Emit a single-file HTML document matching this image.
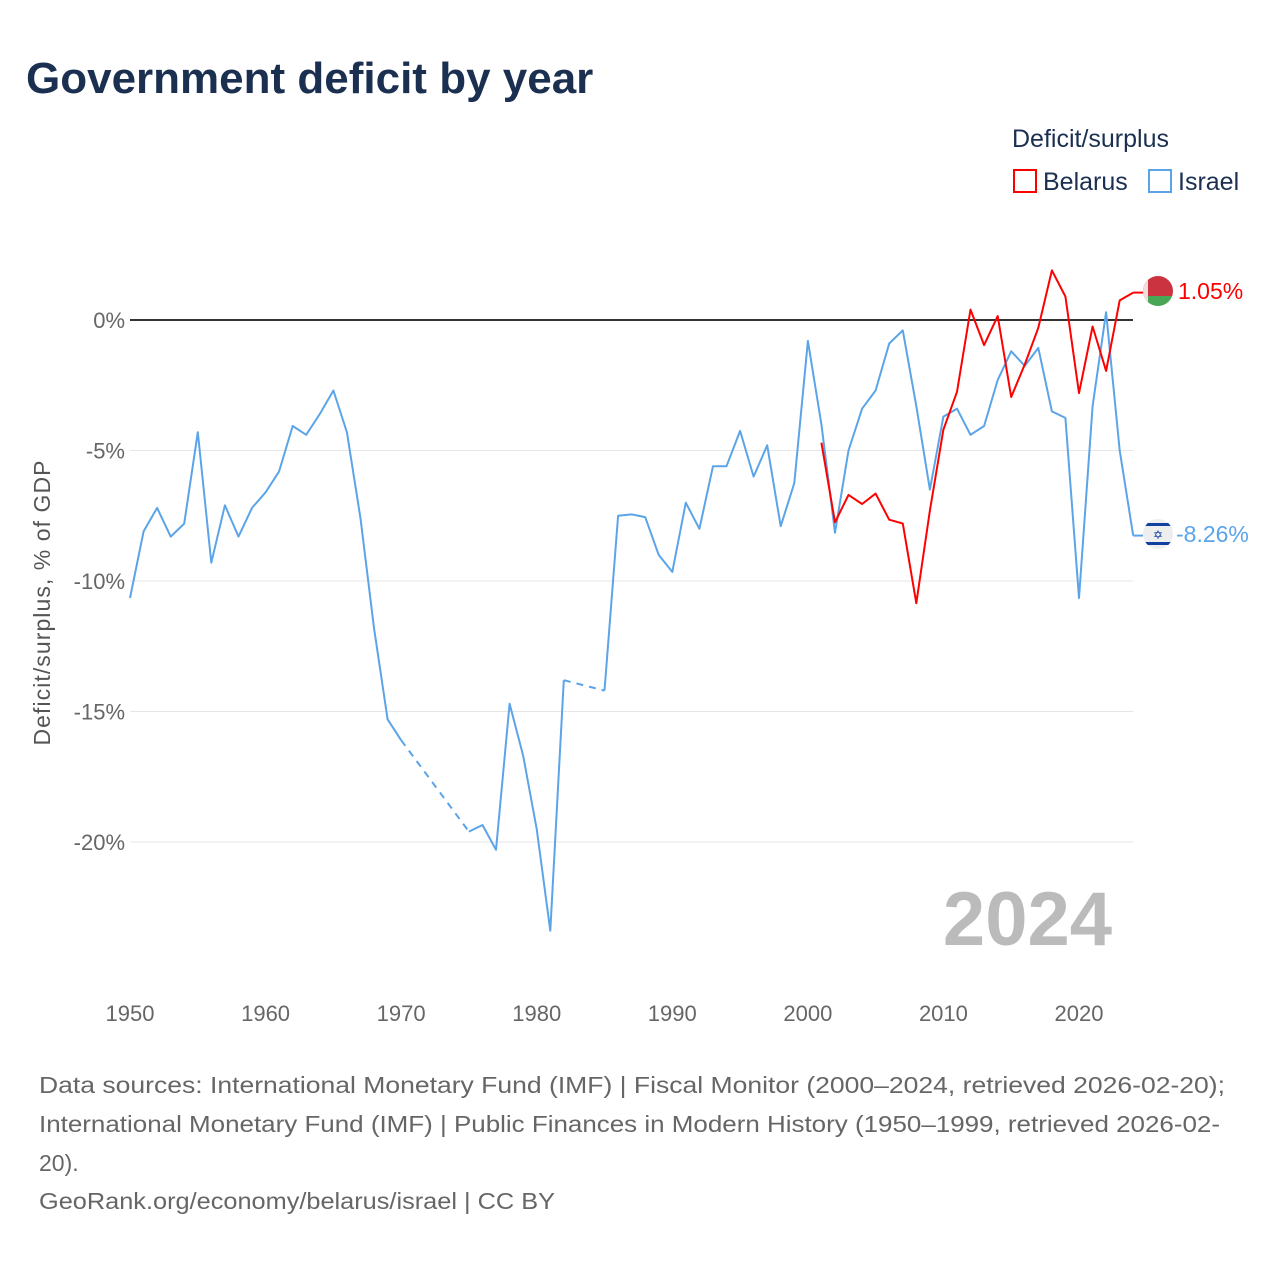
<!DOCTYPE html>
<html><head><meta charset="utf-8">
<style>
body{margin:0;background:#fff;font-family:"Liberation Sans",sans-serif;}
#wrap{position:relative;width:1280px;height:1280px;overflow:hidden;}
</style></head>
<body>
<div id="wrap">
<svg id="chart" width="1280" height="1280" font-family="Liberation Sans, sans-serif">
<text x="26" y="93" font-size="44" font-weight="bold" fill="#1b3050">Government deficit by year</text>
<text x="1012" y="147" font-size="25" fill="#1b3050">Deficit/surplus</text>
<g><rect x="1014" y="170" width="22" height="22" fill="none" stroke="#ff0000" stroke-width="2"/><text x="1043" y="190" font-size="25" fill="#1b3050">Belarus</text></g>
<g><rect x="1149" y="170" width="22" height="22" fill="none" stroke="#5ba4e8" stroke-width="2"/><text x="1178" y="190" font-size="25" fill="#1b3050">Israel</text></g>
<text transform="translate(50,603) rotate(-90)" text-anchor="middle" font-size="23" fill="#555" textLength="285">Deficit/surplus, % of GDP</text>
<g id="grid"></g><g id="yticks"></g><g id="xticks"></g><g id="series"></g>
<text x="1112" y="945" text-anchor="end" font-size="76" font-weight="bold" fill="#bbbbbb">2024</text>
<g>
<clipPath id="cb"><circle cx="1158" cy="291" r="15"/></clipPath>
<g clip-path="url(#cb)"><rect x="1143" y="276" width="30" height="20" fill="#cc3340"/><rect x="1143" y="296" width="30" height="10" fill="#4aa657"/><rect x="1143" y="276" width="5" height="30" fill="#f2dcdc"/></g></g>
<text x="1178" y="299" font-size="23" fill="#ff0000">1.05%</text>
<g>
<circle cx="1158" cy="534" r="15" fill="#eee"/>
<clipPath id="ci"><circle cx="1158" cy="534" r="15"/></clipPath>
<g clip-path="url(#ci)"><rect x="1143" y="523" width="30" height="3" fill="#1040a0"/><rect x="1143" y="542" width="30" height="3" fill="#1040a0"/></g>
<text x="1158" y="539" text-anchor="middle" font-size="12" fill="#1040a0">✡</text></g>
<text x="1176" y="542" font-size="23" fill="#5ba4e8">-8.26%</text>
<g font-size="23" fill="#666">
<text x="39" y="1093" textLength="1186" lengthAdjust="spacingAndGlyphs">Data sources: International Monetary Fund (IMF) | Fiscal Monitor (2000–2024, retrieved 2026-02-20);</text>
<text x="39" y="1132" textLength="1181" lengthAdjust="spacingAndGlyphs">International Monetary Fund (IMF) | Public Finances in Modern History (1950–1999, retrieved 2026-02-</text>
<text x="39" y="1171">20).</text>
<text x="39" y="1209" textLength="516" lengthAdjust="spacingAndGlyphs">GeoRank.org/economy/belarus/israel | CC BY</text>
</g>
</svg>
</div>
<script>
const israelYears=[1950,1951,1952,1953,1954,1955,1956,1957,1958,1959,1960,1961,1962,1963,1964,1965,1966,1967,1968,1969,1970,1975,1976,1977,1978,1979,1980,1981,1982,1985,1986,1987,1988,1989,1990,1991,1992,1993,1994,1995,1996,1997,1998,1999,2000,2001,2002,2003,2004,2005,2006,2007,2008,2009,2010,2011,2012,2013,2014,2015,2016,2017,2018,2019,2020,2021,2022,2023,2024];
const israelValues=[-10.65,-8.1,-7.2,-8.3,-7.8,-4.3,-9.3,-7.1,-8.3,-7.2,-6.6,-5.8,-4.06,-4.4,-3.6,-2.7,-4.3,-7.6,-11.8,-15.3,-16.1,-19.6,-19.35,-20.3,-14.7,-16.7,-19.5,-23.4,-13.8,-14.2,-7.5,-7.45,-7.55,-9.0,-9.65,-7.0,-8.0,-5.6,-5.6,-4.25,-6.0,-4.8,-7.9,-6.25,-0.8,-4.0,-8.15,-5.0,-3.4,-2.7,-0.9,-0.4,-3.3,-6.5,-3.7,-3.4,-4.4,-4.06,-2.3,-1.2,-1.76,-1.07,-3.5,-3.75,-10.65,-3.3,0.3,-5.0,-8.26];
const belarusYears=[2001,2002,2003,2004,2005,2006,2007,2008,2009,2010,2011,2012,2013,2014,2015,2016,2017,2018,2019,2020,2021,2022,2023,2024];
const belarusValues=[-4.7,-7.75,-6.7,-7.05,-6.65,-7.65,-7.8,-10.85,-7.3,-4.2,-2.75,0.4,-0.96,0.15,-2.95,-1.7,-0.3,1.9,0.9,-2.8,-0.25,-1.95,0.75,1.05];
const yTicks=[0,-5,-10,-15,-20];
const yTickLabels=["0%","-5%","-10%","-15%","-20%"];
const xTicks=[1950,1960,1970,1980,1990,2000,2010,2020];

const NS="http://www.w3.org/2000/svg";
const X=y=>130+(y-1950)*(1079-130)/70;
const Y=v=>320-v*26.1;
function mk(tag,attrs,parent){const e=document.createElementNS(NS,tag);for(const k in attrs)e.setAttribute(k,attrs[k]);parent.appendChild(e);return e;}
const grid=document.getElementById('grid'),yt=document.getElementById('yticks'),xt=document.getElementById('xticks'),ser=document.getElementById('series');
yTicks.forEach((v,i)=>{
  const l=mk('line',{x1:130,x2:1133,y1:Y(v),y2:Y(v),stroke:v===0?'#333':'#e6e6e6','stroke-width':v===0?2:1},grid);
  
  
  const t=mk('text',{x:125,y:Y(v)+8,'text-anchor':'end','font-size':22,fill:'#666'},yt);
  t.textContent=yTickLabels[i];
  
  
});
xTicks.forEach(y=>{
  const t=mk('text',{x:X(y),y:1021,'text-anchor':'middle','font-size':22,fill:'#666'},xt);
  t.textContent=y;
  
  
});
function drawSeries(years,vals,color,name){
  let segs=[[]];
  for(let i=0;i<years.length;i++){
    if(i>0&&years[i]-years[i-1]>1){
      const d=mk('line',{x1:X(years[i-1]),y1:Y(vals[i-1]),x2:X(years[i]),y2:Y(vals[i]),stroke:color,'stroke-width':2,'stroke-dasharray':'7,6'},ser);
      
      
      segs.push([]);
    }
    segs[segs.length-1].push(X(years[i]).toFixed(1)+','+Y(vals[i]).toFixed(1));
  }
  segs.forEach(s=>{
    const p=mk('polyline',{points:s.join(' '),fill:'none',stroke:color,'stroke-width':2,'stroke-linejoin':'round'},ser);
    
    
  });
  const last=years.length-1;
  const c=mk('line',{x1:X(years[last]),y1:Y(vals[last]),x2:1143,y2:Y(vals[last]),stroke:color,'stroke-width':2},ser);
  
  
}
drawSeries(israelYears,israelValues,'#5ba4e8','israel');
drawSeries(belarusYears,belarusValues,'#ff0000','belarus');
</script>
</body></html>
